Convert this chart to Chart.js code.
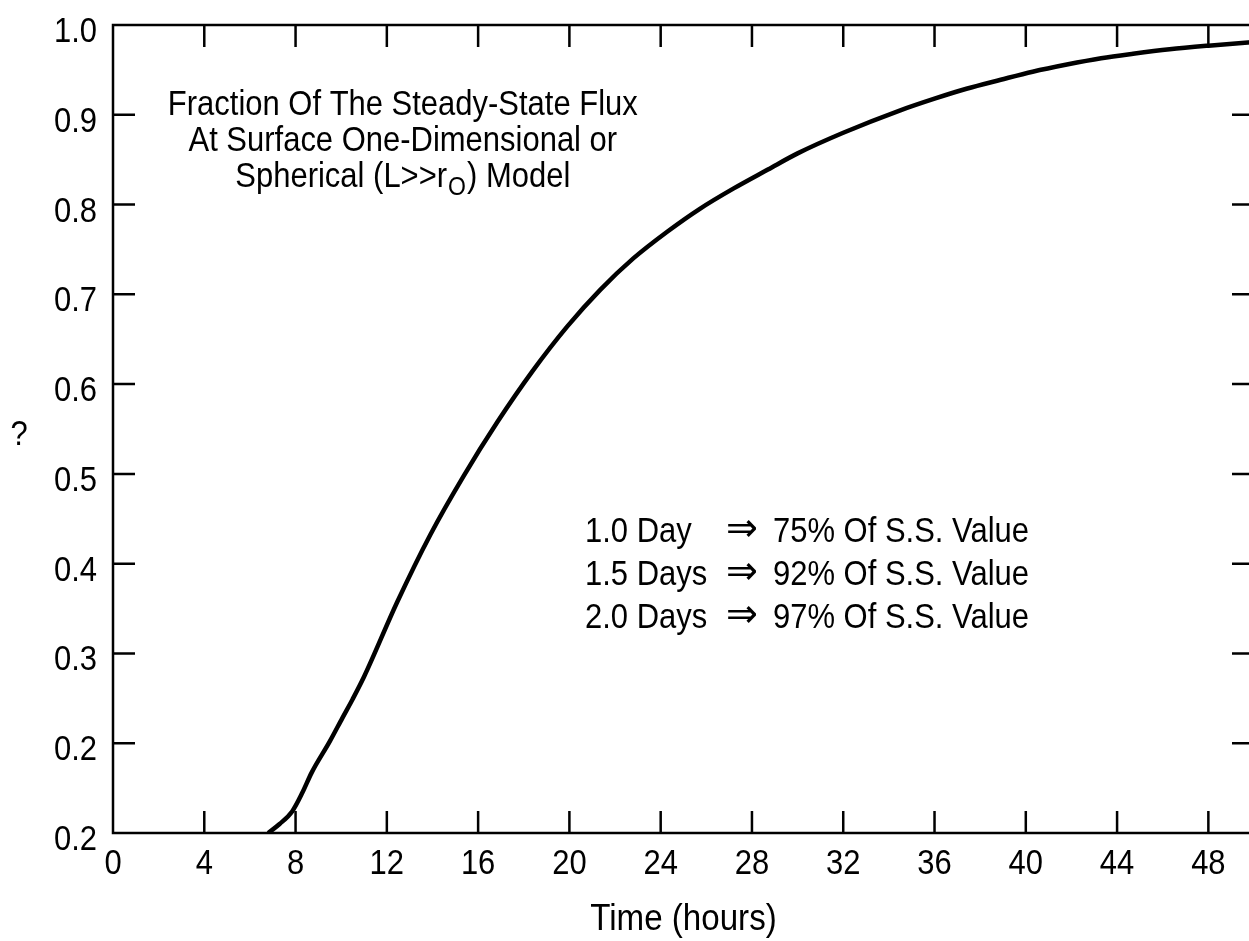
<!DOCTYPE html>
<html>
<head>
<meta charset="utf-8">
<script src="https://cdn.jsdelivr.net/npm/chart.js@4/dist/chart.umd.min.js"></script>
<style>
  html, body { margin: 0; padding: 0; background: #fff; overflow: hidden; }
  #wrap { width: 1249px; height: 941px; overflow: hidden; }
</style>
</head>
<body>
<div id="wrap"><canvas id="fluxChart" width="1256" height="941"></canvas></div>
<script>
// Flux fraction vs. time
const hours = [6.8, 7.3, 7.85, 8.3, 8.7, 9.5, 10.05, 10.5, 11.0, 12.45, 13.9, 15.35, 16.85, 18.4, 19.9, 21.35, 22.8, 24.3, 25.7, 27.2, 28.7, 30.0, 32.0, 34.5, 36.0, 37.4, 38.9, 40.3, 41.8, 43.3, 44.7, 46.3, 48.0, 50.0];
const fraction = [0.100, 0.110, 0.124, 0.145, 0.167, 0.202, 0.228, 0.249, 0.274, 0.357, 0.432, 0.497, 0.558, 0.615, 0.664, 0.705, 0.740, 0.770, 0.795, 0.818, 0.839, 0.857, 0.880, 0.905, 0.918, 0.929, 0.939, 0.948, 0.956, 0.963, 0.968, 0.973, 0.977, 0.981];

// Axis ticks
const xTicks = [0, 4, 8, 12, 16, 20, 24, 28, 32, 36, 40, 44, 48];
const yTicks = [0.1, 0.2, 0.3, 0.4, 0.5, 0.6, 0.7, 0.8, 0.9, 1.0];
const yTickLabels = ['0.2', '0.2', '0.3', '0.4', '0.5', '0.6', '0.7', '0.8', '0.9', '1.0'];

// Text blocks
const titleLines = ['Fraction Of The Steady-State Flux', 'At Surface One-Dimensional or'];
const noteDays = ['1.0 Day', '1.5 Days', '2.0 Days'];
const notePercents = ['75% Of S.S. Value', '92% Of S.S. Value', '97% Of S.S. Value'];

const FONT = "'Liberation Sans', Arial, sans-serif";
const FONT_SIZE = 35;
const SX = 0.885; // squeeze text horizontally to get a condensed face

function text(ctx, str, x, y, align, size, family, sx) {
    ctx.save();
    ctx.font = (size || FONT_SIZE) + 'px ' + (family || FONT);
    ctx.translate(x, y);
    ctx.scale(sx || SX, 1);
    ctx.textAlign = align || 'left';
    ctx.textBaseline = 'alphabetic';
    ctx.fillText(str, 0, 0);
    ctx.restore();
}

function textWidth(ctx, str, size) {
    ctx.save();
    ctx.font = (size || FONT_SIZE) + 'px ' + FONT;
    const w = ctx.measureText(str).width * SX;
    ctx.restore();
    return w;
}

// frame, inward tick marks, tick labels and the free text
const framePlugin = {
    id: 'frame',
    afterDraw(chart) {
        const ctx = chart.ctx;
        const a = chart.chartArea;
        const xs = chart.scales.x;
        const ys = chart.scales.y;
        const tl = 22;

        ctx.save();
        ctx.strokeStyle = '#000';
        ctx.fillStyle = '#000';
        ctx.lineWidth = 2.5;
        ctx.strokeRect(a.left, a.top, a.right - a.left, a.bottom - a.top);

        ctx.beginPath();
        xTicks.forEach(v => {
            if (v === 0) return;
            const px = xs.getPixelForValue(v);
            ctx.moveTo(px, a.bottom);
            ctx.lineTo(px, a.bottom - tl);
            ctx.moveTo(px, a.top);
            ctx.lineTo(px, a.top + tl);
        });
        yTicks.forEach(v => {
            if (v <= 0.1 || v >= 1.0) return;
            const py = ys.getPixelForValue(v);
            ctx.moveTo(a.left, py);
            ctx.lineTo(a.left + tl, py);
            ctx.moveTo(a.right, py);
            ctx.lineTo(a.right - tl, py);
        });
        ctx.stroke();

        // tick labels
        xTicks.forEach(v => text(ctx, String(v), xs.getPixelForValue(v), a.bottom + 41, 'center'));
        yTicks.forEach((v, i) => text(ctx, yTickLabels[i], a.left - 16, ys.getPixelForValue(v) + 17, 'right'));

        // axis titles
        text(ctx, 'Time (hours)', (a.left + a.right) / 2, 930, 'center', 36, FONT, 0.92);
        text(ctx, '?', 19, 445, 'center');

        // upper-left description
        const cx = xs.getPixelForValue(12.7);
        const y0 = ys.getPixelForValue(0.9);
        const lh = 36;
        titleLines.forEach((t, i) => text(ctx, t, cx, y0 + i * lh, 'center'));

        // third line carries a subscript
        const partA = 'Spherical (L>>r';
        const partB = 'O';
        const partC = ') Model';
        const wA = textWidth(ctx, partA);
        const wB = textWidth(ctx, partB, 26);
        const wC = textWidth(ctx, partC);
        let x = cx - (wA + wB + wC + 2) / 2;
        const y3 = y0 + 2 * lh;
        text(ctx, partA, x, y3);
        x += wA + 1;
        text(ctx, partB, x, y3 + 8, 'left', 26);
        x += wB + 1;
        text(ctx, partC, x, y3);

        // time-to-fraction notes
        const ny = 542;
        const nh = 43;
        noteDays.forEach((t, i) => {
            const yy = ny + i * nh;
            text(ctx, t, 585, yy);
            text(ctx, '\u21D2', 742, yy - 1, 'center', 40, "'DejaVu Sans', sans-serif", 0.95);
            text(ctx, notePercents[i], 773, yy);
        });
        ctx.restore();
    }
};

const ctx = document.getElementById('fluxChart').getContext('2d');
new Chart(ctx, {
    type: 'line',
    data: {
        datasets: [{
            data: hours.map((h, i) => ({ x: h, y: fraction[i] })),
            borderColor: '#000',
            borderWidth: 4.5,
            pointRadius: 0,
            fill: false,
            cubicInterpolationMode: 'monotone'
        }]
    },
    options: {
        responsive: false,
        animation: false,
        layout: { padding: { top: 25, right: 2, left: 0, bottom: 0 } },
        plugins: {
            legend: { display: false },
            tooltip: { enabled: false }
        },
        scales: {
            x: {
                type: 'linear',
                min: 0,
                max: 50,
                grid: { display: false, drawTicks: false },
                border: { display: false },
                ticks: { display: false },
                afterBuildTicks: s => { s.ticks = xTicks.map(v => ({ value: v })); },
                afterFit: s => { s.height = 108; s.paddingLeft = 0; s.paddingRight = 0; }
            },
            y: {
                type: 'linear',
                min: 0.1,
                max: 1.0,
                grid: { display: false, drawTicks: false },
                border: { display: false },
                ticks: { display: false },
                afterBuildTicks: s => { s.ticks = yTicks.map(v => ({ value: v })); },
                afterFit: s => { s.width = 113; s.paddingTop = 0; s.paddingBottom = 0; }
            }
        }
    },
    plugins: [framePlugin]
});
</script>
</body>
</html>
